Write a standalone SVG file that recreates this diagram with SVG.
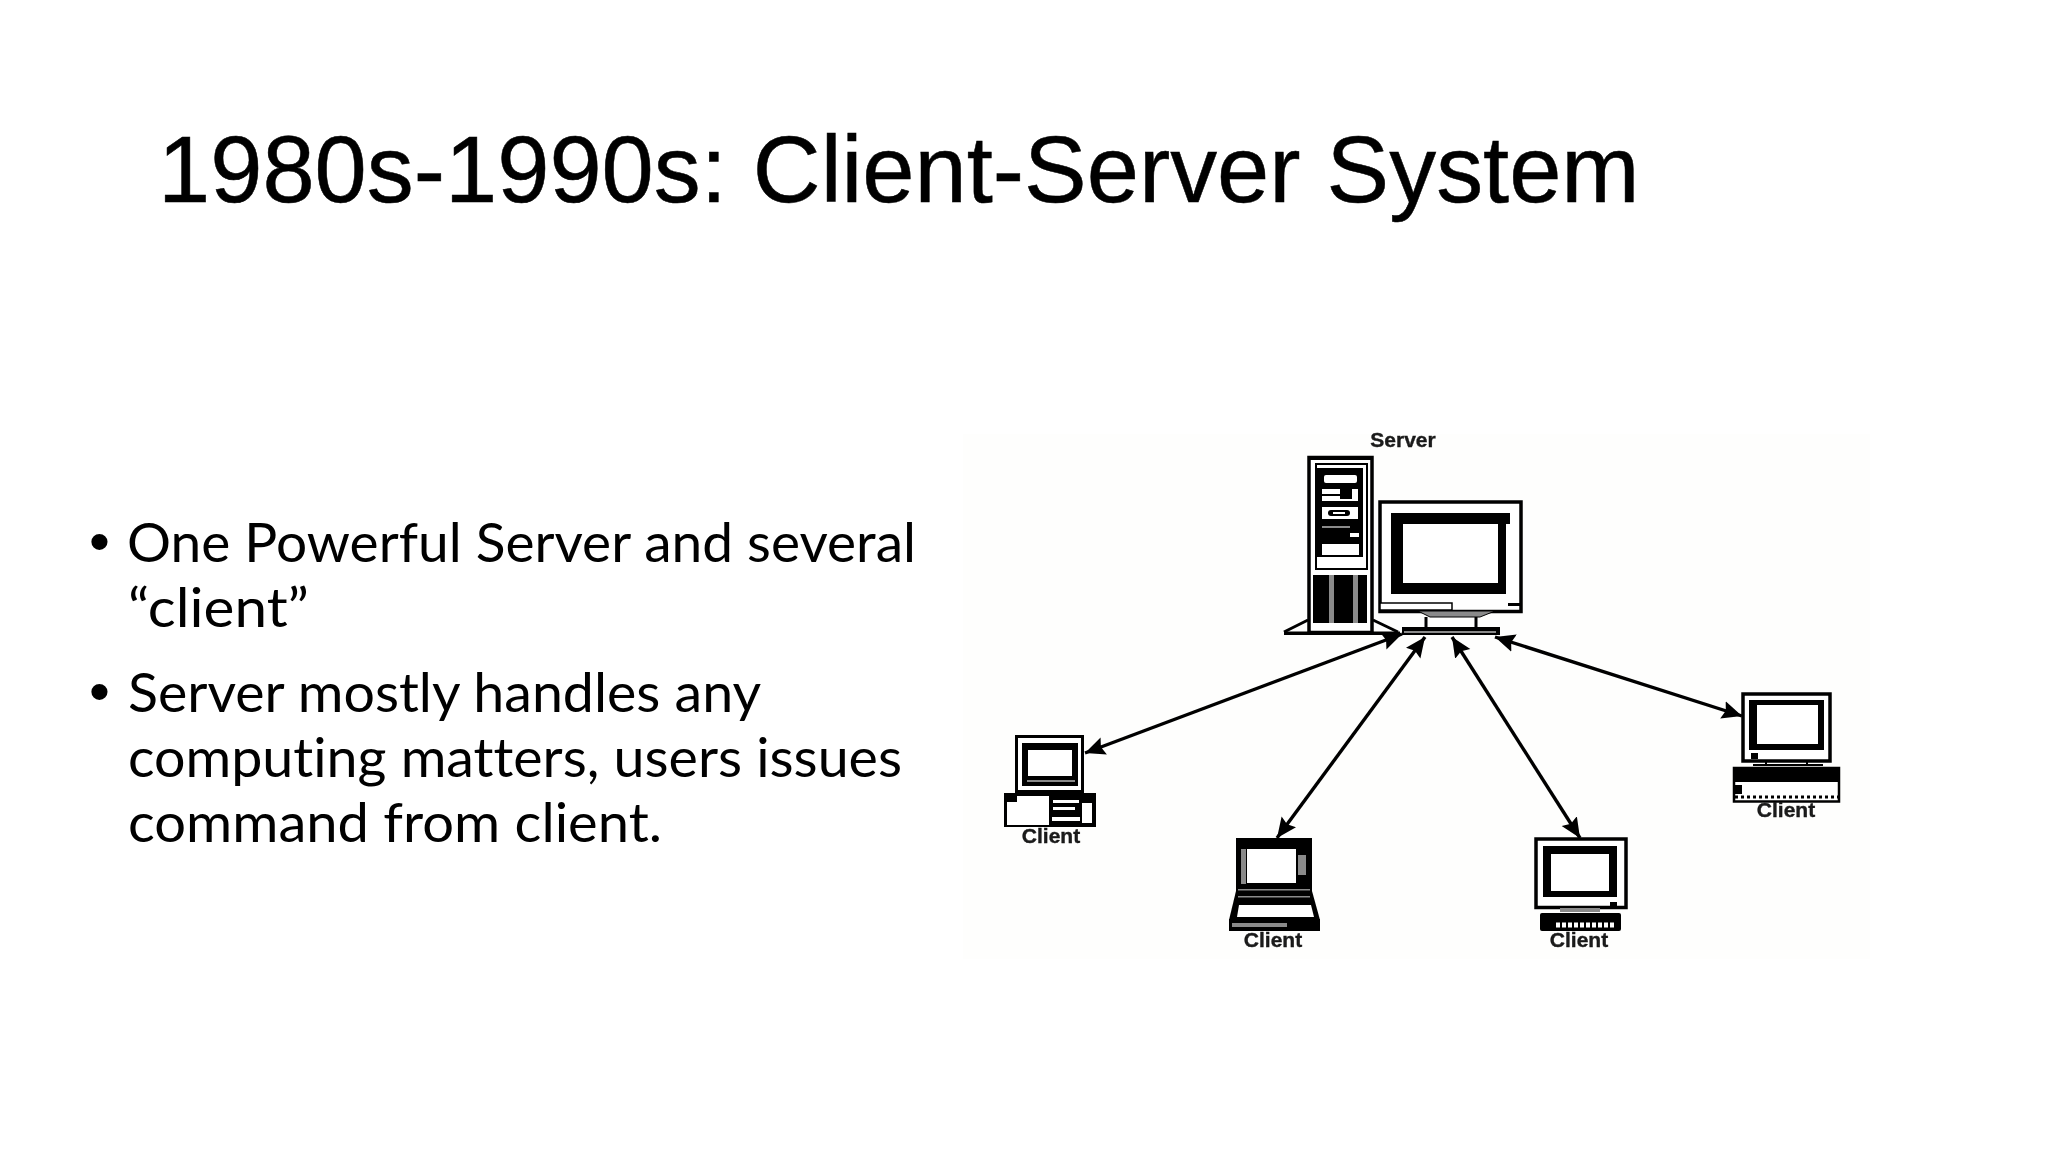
<svg xmlns="http://www.w3.org/2000/svg" width="2048" height="1152" viewBox="0 0 2048 1152">
<style>
.title{font:93.87px "Liberation Sans",Arial,sans-serif;fill:#000;stroke:#000;stroke-width:.5}
.body{font:54.5px Lato,"Noto Sans",sans-serif;fill:#000;font-variant-ligatures:none}
.bullet{font:59.7px "Liberation Sans",Arial,sans-serif;fill:#000}
.lab{font:bold 21px "Liberation Sans",Arial,sans-serif;fill:#1a1a1a;stroke:#1a1a1a;stroke-width:.4;text-anchor:middle}
.k{fill:#000}.w{fill:#fff}.g{fill:#8a8a8a}
.o{fill:#fff;stroke:#000;stroke-width:3.500}
.l{stroke:#000;fill:none;stroke-width:3}
.conn{stroke:#000;stroke-width:3.400;fill:none;marker-start:url(#ah);marker-end:url(#ah)}
</style>
<defs>
<marker id="ah" markerUnits="userSpaceOnUse" markerWidth="22" markerHeight="20" refX="20" refY="10" orient="auto-start-reverse"><path d="M0 1L20 10L0 19L3 10Z" fill="#000"/></marker>
<filter id="soft" x="-2%" y="-2%" width="104%" height="104%"><feGaussianBlur stdDeviation="0.6"/></filter>
</defs>
<rect width="2048" height="1152" fill="#fff"/>
<text class="title" x="158" y="202">1980s-1990s: Client-Server System</text>
<g id="bullets">
<text class="bullet" x="89" y="562">•</text>
<text class="body" x="127" y="562" textLength="789" lengthAdjust="spacingAndGlyphs">One Powerful Server and several</text>
<text class="body" x="128" y="627" textLength="181" lengthAdjust="spacingAndGlyphs">“client”</text>
<text class="bullet" x="89" y="712">•</text>
<text class="body" x="128" y="712" textLength="633" lengthAdjust="spacingAndGlyphs">Server mostly handles any</text>
<text class="body" x="128" y="777" textLength="774" lengthAdjust="spacingAndGlyphs">computing matters, users issues</text>
<text class="body" x="128" y="842" textLength="534" lengthAdjust="spacingAndGlyphs">command from client.</text>
</g>
<g id="figure" filter="url(#soft)">
<rect x="963" y="434" width="907" height="525" fill="#fefefd"/>
<g id="connectors">
<line class="conn" x1="1402" y1="634" x2="1085" y2="753"/>
<line class="conn" x1="1425" y1="637" x2="1277" y2="838"/>
<line class="conn" x1="1452" y1="637" x2="1580" y2="838"/>
<line class="conn" x1="1495" y1="637" x2="1742" y2="716"/>
</g>
<g id="server">
<text class="lab" x="1403" y="447">Server</text>
<path class="l" d="M1308 620L1284 632M1373 620L1398 632"/>
<path class="k" d="M1284 631.500H1400V635H1284Z"/>
<rect class="o" x="1309" y="457.500" width="63" height="175"/>
<rect x="1308" y="456" width="65" height="4" class="k"/>
<rect class="o" x="1316" y="464" width="51" height="105" style="stroke-width:2"/>
<rect class="k" x="1317" y="468" width="46" height="89"/>
<rect class="w" x="1324" y="475" width="33" height="8" rx="2"/>
<rect class="w" x="1322" y="489" width="36" height="12"/><rect class="k" x="1340" y="489" width="12" height="10"/><rect class="k" x="1322" y="494" width="18" height="2"/>
<rect class="w" x="1322" y="507" width="36" height="12"/><rect class="k" x="1328" y="510" width="22" height="6" rx="3"/><rect class="w" x="1333" y="512" width="12" height="2"/>
<rect class="g" x="1322" y="526" width="28" height="2"/><rect class="w" x="1350" y="533" width="9" height="4"/>
<rect class="w" x="1322" y="544" width="37" height="11"/>
<rect class="k" x="1313" y="575" width="54" height="48"/>
<rect class="g" x="1329" y="575" width="5" height="48"/><rect class="g" x="1353" y="575" width="5" height="48"/>
<rect class="o" x="1380" y="502" width="141" height="109.500"/>
<path class="k" d="M1391 513H1510V524H1506V594H1391Z"/>
<rect class="w" x="1403" y="524" width="95" height="59"/>
<rect class="o" x="1380" y="603" width="72" height="7" style="stroke-width:1.500"/>
<rect class="k" x="1508" y="603" width="12" height="3"/>
<path class="g" d="M1418 611H1495L1480 617H1430Z" stroke="#000"/>
<path class="l" d="M1426 617V628M1476 617V628"/>
<rect class="k" x="1402" y="627" width="98" height="8"/><rect class="g" x="1404" y="631" width="92" height="2"/>
</g>
<g id="client1">
<rect class="o" x="1016.500" y="736.500" width="66" height="55" style="stroke-width:3"/>
<rect class="k" x="1022" y="743" width="56" height="43"/>
<rect class="w" x="1028" y="750" width="44" height="26"/>
<rect class="g" x="1027" y="780" width="48" height="2"/>
<rect class="k" x="1004" y="793" width="92" height="34"/>
<rect class="w" x="1007" y="802" width="42" height="23"/><rect class="w" x="1017" y="796" width="32" height="7"/>
<rect class="w" x="1053" y="800" width="26" height="3"/><rect class="w" x="1053" y="807" width="22" height="3"/><rect class="w" x="1052" y="817" width="28" height="4"/>
<rect class="w" x="1082" y="803" width="10" height="20"/>
<text class="lab" x="1051" y="843">Client</text>
</g>
<g id="client2">
<rect class="k" x="1236" y="838" width="76" height="53"/>
<rect class="g" x="1241" y="849" width="5" height="35"/>
<rect class="w" x="1247" y="849" width="49" height="34"/>
<rect class="g" x="1298" y="855" width="8" height="20"/>
<path class="k" d="M1236 891H1312L1320 920H1229Z"/>
<rect class="g" x="1238" y="896" width="72" height="1.500"/><rect class="g" x="1238" y="889" width="72" height="1.500"/>
<path class="w" d="M1239 905H1311L1314 917H1237Z"/>
<rect class="k" x="1229" y="919" width="91" height="12"/>
<rect class="g" x="1232" y="923" width="55" height="4"/>
<text class="lab" x="1273" y="947">Client</text>
</g>
<g id="client3">
<rect class="o" x="1536" y="839" width="90" height="68.500"/>
<rect class="k" x="1543" y="846" width="74" height="51"/>
<rect class="w" x="1551" y="854" width="58" height="37"/>
<rect class="k" x="1610" y="902" width="7" height="5"/>
<rect class="g" x="1560" y="908" width="40" height="4"/>
<rect class="k" x="1540" y="913" width="81" height="18" rx="2"/>
<path d="M1556 925H1616" stroke="#fff" stroke-width="5" stroke-dasharray="4 2" fill="none"/>
<text class="lab" x="1579" y="947">Client</text>
</g>
<g id="client4">
<rect class="o" x="1743" y="694" width="87" height="67" />
<rect class="k" x="1749" y="700" width="75" height="50"/>
<rect class="w" x="1757" y="705" width="61" height="39"/>
<rect class="k" x="1751" y="753" width="7" height="6"/>
<path class="l" d="M1766 761V765M1807 761V765" style="stroke-width:2"/><rect class="k" x="1753" y="764" width="70" height="2"/>
<rect class="o" x="1734" y="768" width="105" height="33.500" style="stroke-width:2.500"/>
<rect class="k" x="1734" y="768" width="105" height="14"/>
<rect class="k" x="1735" y="785" width="7" height="9"/>
<path d="M1735 797H1838" stroke="#000" stroke-width="3" stroke-dasharray="3 3" fill="none"/>
<text class="lab" x="1786" y="817">Client</text>
</g>
</g>
</svg>
